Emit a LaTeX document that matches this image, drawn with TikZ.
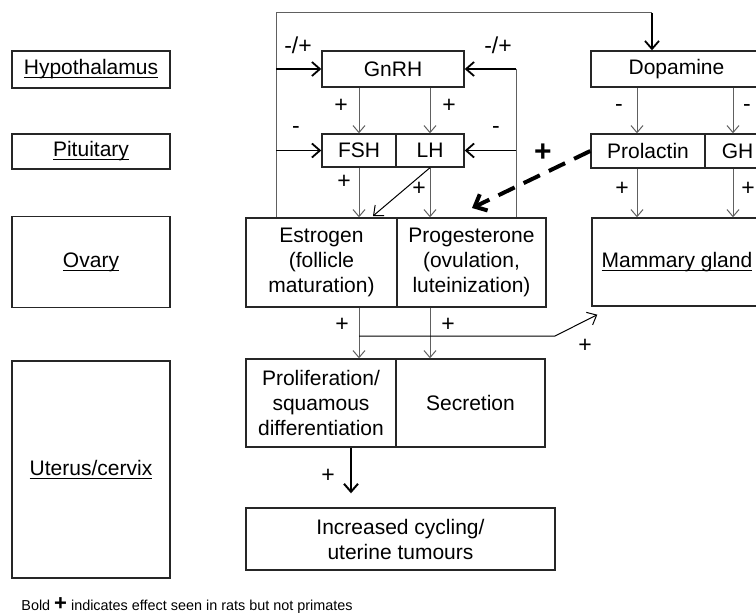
\documentclass[tikz,border=0pt]{standalone}
\usepackage{fontspec}
\setmainfont{Liberation Sans}
\usetikzlibrary{arrows.meta}
\newcommand\uln[1]{\setbox0\hbox{#1}\rlap{\rule[-1.7pt]{\wd0}{0.5pt}}\box0}

\begin{document}
\begin{tikzpicture}[x=0.5pt,y=-0.5pt,
  font=\fontsize{10.5}{12.5}\selectfont,
  box/.style={draw=black!85,line width=0.7pt,inner sep=0pt,align=center},
  wire/.style={draw=gray!75!black,line width=0.5pt},
  garrow/.style={wire,-{Straight Barb[length=3.5pt,width=6pt]}},
  barrow/.style={draw=black,line width=0.9pt,-{Straight Barb[length=4pt,width=7pt]}},
  sarrow/.style={draw=black,line width=0.5pt,-{Straight Barb[length=4pt,width=7pt]}},
  sign/.style={inner sep=1pt,font=\fontsize{11.5}{12}\selectfont}]
\useasboundingbox (0,0) rectangle (756,615);
\clip (0,0) rectangle (756,615);

% levels
\node[box,minimum width=79pt,minimum height=18.5pt] (hyp) at (91,69.5) {\uln{Hypothalamus}};
\node[box,minimum width=79pt,minimum height=17.5pt] (pit) at (91,151.5) {\uln{Pituitary}};
\node[box,minimum width=79pt,minimum height=45.5pt] (ova) at (91,262) {\uln{Ovary}};
\node[box,minimum width=79pt,minimum height=108.5pt] (ute) at (91,469.5) {\uln{Uterus/cervix}};

% hormones
\node[box,minimum width=71pt,minimum height=18pt] (gnrh) at (393,69) {GnRH};
\node[box,minimum width=37pt,minimum height=16.5pt] (fsh) at (359,150.5) {FSH};
\node[box,minimum width=34pt,minimum height=16.5pt] (lh) at (430,150.5) {LH};
\node[box,minimum width=85.5pt,minimum height=18pt] (dop) at (676.5,69) {Dopamine};
\node[box,minimum width=57pt,minimum height=17pt] (prl) at (648,151) {Prolactin};
\node[box,minimum width=32.5pt,minimum height=17pt] (gh) at (737.5,151) {GH};

% targets
\node[box,minimum width=75.5pt,minimum height=44.5pt] (est) at (321.5,262.5) {Estrogen\\(follicle\\maturation)};
\node[box,minimum width=74.5pt,minimum height=44.5pt] (prg) at (471.5,262.5) {Progesterone\\(ovulation,\\luteinization)};
\node[box,minimum width=85pt,minimum height=44pt] (mam) at (677,262) {\uln{Mammary gland}};
\node[box,minimum width=75pt,minimum height=44pt] (pro) at (321,403) {Proliferation/\\squamous\\differentiation};
\node[box,minimum width=74.5pt,minimum height=44pt] (sec) at (470.5,403) {Secretion};
\node[box,minimum width=154.5pt,minimum height=31pt] (inc) at (400.5,539) {Increased cycling/\\uterine tumours};

% columns
\coordinate (fl) at (276,13);
\coordinate (fr) at (516,0);
\coordinate (dx) at (652,13);
\coordinate (c0) at (351,0);
\coordinate (c3) at (637,0);
\coordinate (c4) at (733,0);
\coordinate (ein) at (373,216);
\coordinate (br) at (359,336);
\coordinate (bk) at (555,336);
\coordinate (dtip) at (472,208);

% feedback from ovary
\draw[wire] (est.north -| fl) -- (fl) -- (dx);
\draw[barrow] (dx) -- (dop.north -| dx);
\draw[barrow] (gnrh.west -| fl) -- (gnrh.west);
\draw[barrow] (fsh.west -| fl) -- (fsh.west);
\draw[wire] (prg.north -| fr) -- (gnrh.east -| fr);
\draw[barrow] (gnrh.east -| fr) -- (gnrh.east);
\draw[barrow] (lh.east -| fr) -- (lh.east);

% down the axis
\draw[garrow] (gnrh.south -| fsh) -- (fsh.north);
\draw[garrow] (gnrh.south -| lh) -- (lh.north);
\draw[garrow] (fsh.south) -- (fsh.south |- est.north);
\draw[garrow] (lh.south) -- (lh.south |- prg.north);
\draw[sarrow] (lh.south) -- (ein);
\draw[garrow] (fsh |- est.south) -- (fsh |- pro.north);
\draw[garrow] (lh |- prg.south) -- (lh |- sec.north);
\draw[sarrow] (br) -- (bk) -- ([xshift=3pt,yshift=-4pt]mam.south west);
\draw[draw=black,line width=1pt,shorten >=7pt,-{Straight Barb[length=4pt,width=7pt]}] (pro.south -| c0) -- (inc.north -| c0);

% prolactin side
\draw[garrow] (dop.south -| c3) -- (prl.north -| c3);
\draw[garrow] (dop.south -| c4) -- (gh.north -| c4);
\draw[garrow] (prl.south -| c3) -- (mam.north -| c3);
\draw[garrow] (gh.south -| c4) -- (mam.north -| c4);
\draw[draw=black,line width=2pt,dash pattern=on 9pt off 5pt,-{Straight Barb[length=5pt,width=9pt]}] (prl.west) -- (dtip);

% signs
\node[sign] (s1) at (298,45) {-/+};
\node[sign] (s2) at (296,130) {-};
\node[sign] (s3) at (498,45) {-/+};
\node[sign] (s4) at (496,130) {-};
\node[sign] (s5) at (341,106) {+};
\node[sign] (s6) at (449,106) {+};
\node[sign] (s7) at (344,182) {+};
\node[sign] (s8) at (419,189) {+};
\node[sign,font=\fontsize{15}{15}\selectfont\bfseries] (s9) at (543,153) {+};
\node[sign] (s10) at (619,108) {-};
\node[sign] (s11) at (747,108) {-};
\node[sign] (s12) at (622,189) {+};
\node[sign] (s13) at (748,189) {+};
\node[sign] (s14) at (342,325) {+};
\node[sign] (s15) at (448,325) {+};
\node[sign] (s16) at (585,346) {+};
\node[sign] (s17) at (328,476) {+};

\node[anchor=west,inner sep=0pt,font=\fontsize{7.2}{8}\selectfont] (note) at (21,606)
  {Bold {\fontsize{11}{11}\selectfont\bfseries +} indicates effect seen in rats but not primates};
\end{tikzpicture}
\end{document}
